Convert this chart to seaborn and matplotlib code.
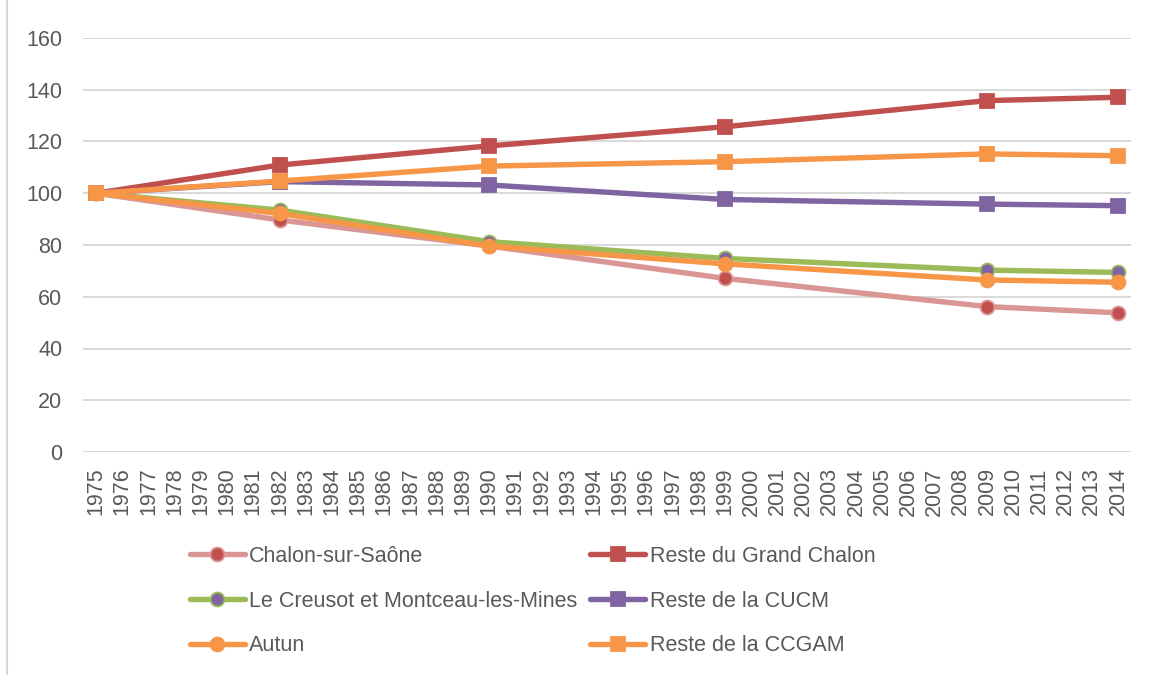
import matplotlib
matplotlib.use("Agg")
import matplotlib.pyplot as plt
import pandas as pd
import seaborn as sns
from matplotlib.lines import Line2D

# Data (index 1975 = 100)
years = [1975, 1982, 1990, 1999, 2009, 2014]
chalon = [100, 89.7, 79.6, 67.1, 56.2, 53.8]
reste_grand_chalon = [100, 110.9, 118.3, 125.7, 135.8, 137.1]
creusot_montceau = [100, 93.5, 81.3, 74.8, 70.3, 69.4]
reste_cucm = [100, 104.5, 103.2, 97.6, 95.8, 95.2]
autun = [100, 92.2, 79.6, 72.7, 66.5, 65.6]
reste_ccgam = [100, 104.7, 110.5, 112.2, 115.2, 114.5]

series_names = ["Chalon-sur-Saône", "Reste du Grand Chalon",
                "Le Creusot et Montceau-les-Mines", "Reste de la CUCM",
                "Autun", "Reste de la CCGAM"]
series_values = [chalon, reste_grand_chalon, creusot_montceau, reste_cucm,
                 autun, reste_ccgam]
tick_years = list(range(1975, 2015))
y_ticks = list(range(0, 161, 20))

# line colour, marker, marker face, marker edge, marker size
styles = {
    "Chalon-sur-Saône": ("#D99694", "o", "#C0504D", "#D99694", 10),
    "Reste du Grand Chalon": ("#C0504D", "s", "#C0504D", "#C0504D", 10.5),
    "Le Creusot et Montceau-les-Mines": ("#9BBB59", "o", "#8064A2", "#9BBB59", 10),
    "Reste de la CUCM": ("#8064A2", "s", "#8064A2", "#8064A2", 10.5),
    "Autun": ("#F79646", "o", "#F79646", "#F79646", 10),
    "Reste de la CCGAM": ("#F79646", "s", "#F79646", "#F79646", 10.5),
}

df = pd.concat([pd.DataFrame({"year": years, "value": vals, "series": name})
                for name, vals in zip(series_names, series_values)])

sns.set_style("white")
plt.rcParams["font.family"] = ["Liberation Sans", "DejaVu Sans"]
text_color = "#595959"
grid_color = "#D9D9D9"

fig = plt.figure(figsize=(11.53, 6.75), dpi=100)
ax = fig.add_axes([83 / 1153, 1 - 452 / 675, (1131 - 83) / 1153, (452 - 38) / 675])

for name in series_names:
    color, marker, mfc, mec, ms = styles[name]
    sns.lineplot(data=df[df.series == name], x="year", y="value", ax=ax,
                 color=color, linewidth=3.9, marker=marker, markersize=ms,
                 markerfacecolor=mfc, markeredgecolor=mec, markeredgewidth=1.3,
                 label=name, legend=False)

ax.set_xlim(1974.5, 2014.5)
ax.set_ylim(0, 160)
ax.set_xticks(tick_years)
ax.set_xticklabels([str(y) for y in tick_years], rotation=90)
ax.set_yticks(y_ticks)
ax.yaxis.grid(True, color=grid_color, linewidth=1.4)
ax.xaxis.grid(False)
ax.set_axisbelow(True)
for spine in ax.spines.values():
    spine.set_visible(False)
ax.tick_params(axis="x", length=0, pad=11, labelsize=15.5, labelcolor=text_color)
ax.tick_params(axis="y", length=0, pad=15, labelsize=15.5, labelcolor=text_color)
ax.set_xlabel("")
ax.set_ylabel("")

handles = {l.get_label(): l for l in ax.get_lines()}
order = ["Chalon-sur-Saône", "Le Creusot et Montceau-les-Mines", "Autun",
         "Reste du Grand Chalon", "Reste de la CUCM", "Reste de la CCGAM"]
leg = fig.legend([handles[n] for n in order], order, ncol=2, frameon=False,
                 loc="upper left", bbox_to_anchor=(190 / 1153, 1 - 546 / 675),
                 fontsize=15.5, handlelength=2.55, handletextpad=0.2,
                 columnspacing=0.6, labelspacing=1.1, borderpad=0,
                 borderaxespad=0)
for t in leg.get_texts():
    t.set_color(text_color)

fig.add_artist(Line2D([7 / 1153, 7 / 1153], [0, 1], color=grid_color,
                      linewidth=1.5, transform=fig.transFigure))

fig.savefig("out.png", dpi=100)
